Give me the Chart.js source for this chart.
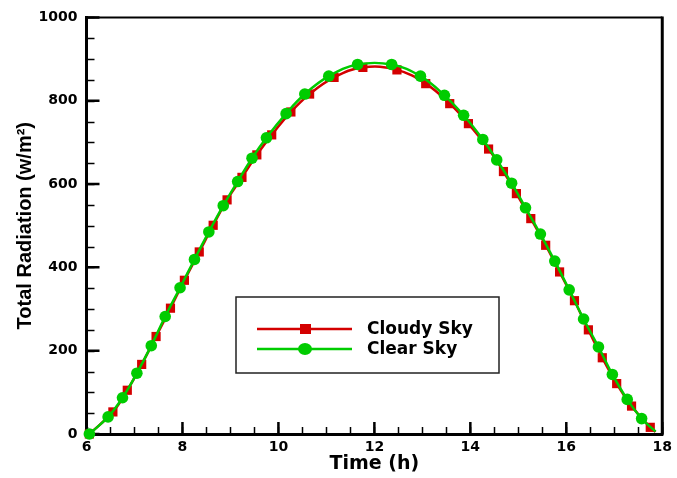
<!DOCTYPE html>
<html>
<head>
<meta charset="utf-8">
<script src="https://cdn.jsdelivr.net/npm/chart.js@4"></script>
<style>
  html, body { margin: 0; padding: 0; background: #fff; }
  #box { width: 677px; height: 478px; }
</style>
</head>
<body>
<div id="box"><canvas id="chart"></canvas></div>
<script>
// Clear Sky (green circles) - hora / radiação
const clearTime = [6.06, 6.45, 6.75, 7.05, 7.35, 7.64, 7.95, 8.25, 8.55, 8.85, 9.15, 9.45, 9.75, 10.16, 10.55, 11.05, 11.65, 12.36, 12.96, 13.46, 13.86, 14.26, 14.55, 14.86, 15.15, 15.46, 15.76, 16.06, 16.36, 16.67, 16.96, 17.27, 17.57, 17.86];
const clearRad = [0, 41, 87, 146, 212, 282, 351, 419, 485, 548, 606, 662, 711, 769, 816, 859, 887, 887, 859, 813, 765, 707, 658, 602, 543, 480, 415, 346, 276, 209, 143, 83, 37, 6];

// Cloudy Sky (red squares)
const cloudyTime = [6.06, 6.55, 6.85, 7.15, 7.45, 7.75, 8.04, 8.35, 8.64, 8.93, 9.24, 9.55, 9.86, 10.26, 10.65, 11.16, 11.76, 12.47, 13.07, 13.57, 13.96, 14.38, 14.69, 14.96, 15.26, 15.57, 15.86, 16.17, 16.46, 16.75, 17.05, 17.36, 17.75, 17.86];
const cloudyRad = [0, 53, 105, 167, 234, 302, 369, 437, 501, 562, 616, 670, 718, 773, 816, 856, 880, 874, 841, 793, 745, 684, 630, 577, 517, 453, 389, 320, 250, 183, 121, 67, 16, 5];

const seriesNames = ['Cloudy Sky', 'Clear Sky'];

// Ticks
const xTicks = [6, 8, 10, 12, 14, 16, 18];
const yTicks = [0, 200, 400, 600, 800, 1000];
const xMinor = [];
for (let v = 6; v <= 18; v += 0.5) xMinor.push(v);
const yMinor = [];
for (let v = 0; v <= 1000; v += 50) yMinor.push(v);

const RED = '#d40000';
const GREEN = '#00cc00';
const tickFont = { family: 'DejaVu Sans', weight: 'bold', size: 14 };

function toXY(xs, ys) {
    return xs.map((x, i) => ({ x: x, y: ys[i] }));
}

// Eixos internos: ticks, linhas superior e direita
const framePlugin = {
    id: 'frame',
    beforeDatasetsDraw(chart) {
        const { ctx, chartArea: a, scales: { x, y } } = chart;
        ctx.save();
        ctx.strokeStyle = '#000';
        // top / right lines
        ctx.lineWidth = 2;
        ctx.beginPath();
        ctx.moveTo(a.left, a.top);
        ctx.lineTo(a.right, a.top);
        ctx.stroke();
        ctx.lineWidth = 3;
        ctx.beginPath();
        ctx.moveTo(a.right, a.top - 1);
        ctx.lineTo(a.right, a.bottom + 1.5);
        ctx.stroke();
        // minor ticks
        ctx.lineWidth = 1.5;
        ctx.beginPath();
        xMinor.forEach(v => {
            const px = Math.round(x.getPixelForValue(v)) + 0.5;
            ctx.moveTo(px, a.bottom);
            ctx.lineTo(px, a.bottom - 7);
        });
        yMinor.forEach(v => {
            const py = Math.round(y.getPixelForValue(v)) + 0.5;
            ctx.moveTo(a.left, py);
            ctx.lineTo(a.left + 8, py);
        });
        ctx.stroke();
        // major ticks
        ctx.lineWidth = 2.5;
        ctx.beginPath();
        xTicks.forEach(v => {
            const px = x.getPixelForValue(v);
            ctx.moveTo(px, a.bottom);
            ctx.lineTo(px, a.bottom - 12);
        });
        yTicks.forEach(v => {
            const py = y.getPixelForValue(v);
            ctx.moveTo(a.left, py);
            ctx.lineTo(a.left + 13, py);
        });
        ctx.stroke();
        ctx.restore();
    }
};

// Legenda dentro do gráfico
const legendPlugin = {
    id: 'boxLegend',
    afterDraw(chart) {
        const ctx = chart.ctx;
        ctx.save();
        ctx.fillStyle = '#fff';
        ctx.fillRect(236, 297, 263, 76);
        ctx.strokeStyle = '#222';
        ctx.lineWidth = 1.5;
        ctx.strokeRect(236, 297, 263, 76);

        const rows = [
            { y: 329, color: RED, style: 'rect', label: seriesNames[0] },
            { y: 349, color: GREEN, style: 'circle', label: seriesNames[1] }
        ];
        rows.forEach(r => {
            ctx.strokeStyle = r.color;
            ctx.lineWidth = 2.5;
            ctx.beginPath();
            ctx.moveTo(257, r.y);
            ctx.lineTo(352, r.y);
            ctx.stroke();
            ctx.fillStyle = r.color;
            if (r.style === 'rect') {
                ctx.fillRect(300, r.y - 5, 11, 10);
            } else {
                ctx.beginPath();
                ctx.ellipse(305, r.y, 7, 6, 0, 0, Math.PI * 2);
                ctx.fill();
            }
            ctx.fillStyle = '#000';
            ctx.font = 'bold 17px "DejaVu Sans"';
            ctx.textBaseline = 'middle';
            ctx.textAlign = 'left';
            ctx.fillText(r.label, 367, r.y + 1);
        });
        ctx.restore();
    }
};

new Chart(document.getElementById('chart'), {
    type: 'line',
    data: {
        datasets: [
            {
                label: seriesNames[0],
                data: toXY(cloudyTime, cloudyRad),
                borderColor: RED,
                backgroundColor: RED,
                borderWidth: 2.5,
                tension: 0.4,
                pointStyle: 'rect',
                pointRadius: ctx => ctx.dataIndex === cloudyTime.length - 1 ? 0 : 6.5,
                pointBorderWidth: 0,
                clip: false,
                order: 2
            },
            {
                label: seriesNames[1],
                data: toXY(clearTime, clearRad),
                borderColor: GREEN,
                backgroundColor: GREEN,
                borderWidth: 2.5,
                tension: 0.4,
                pointStyle: 'circle',
                pointRadius: ctx => ctx.dataIndex === clearTime.length - 1 ? 0 : 5.8,
                pointBorderWidth: 0,
                clip: false,
                order: 1
            }
        ]
    },
    options: {
        responsive: true,
        maintainAspectRatio: false,
        animation: false,
        layout: { padding: { top: 15, right: 10, left: 0, bottom: 0 } },
        plugins: {
            legend: { display: false },
            tooltip: { enabled: false }
        },
        scales: {
            x: {
                type: 'linear',
                min: 6,
                max: 18,
                afterFit: s => { s.height = 44; },
                afterBuildTicks: s => { s.ticks = xTicks.map(v => ({ value: v })); },
                grid: { display: false, drawTicks: false },
                border: { display: true, color: '#000', width: 3 },
                ticks: { color: '#000', font: tickFont, padding: 5, autoSkip: false, maxRotation: 0, callback: v => String(v) },
                title: {
                    display: true,
                    text: 'Time (h)',
                    color: '#000',
                    font: { family: 'DejaVu Sans', weight: 'bold', size: 19 },
                    padding: { top: 0, bottom: 3 }
                }
            },
            y: {
                min: 0,
                max: 1000,
                afterFit: s => { s.width = 86.5; },
                afterBuildTicks: s => { s.ticks = yTicks.map(v => ({ value: v })); },
                grid: { display: false, drawTicks: false },
                border: { display: true, color: '#000', width: 3 },
                ticks: { color: '#000', font: tickFont, padding: 9, callback: v => String(v) },
                title: {
                    display: true,
                    text: 'Total Radiation (w/m²)',
                    color: '#000',
                    font: { family: 'Liberation Sans', weight: 'bold', size: 20 },
                    padding: { top: 13, bottom: 0 }
                }
            }
        }
    },
    plugins: [framePlugin, legendPlugin]
});
</script>
</body>
</html>
